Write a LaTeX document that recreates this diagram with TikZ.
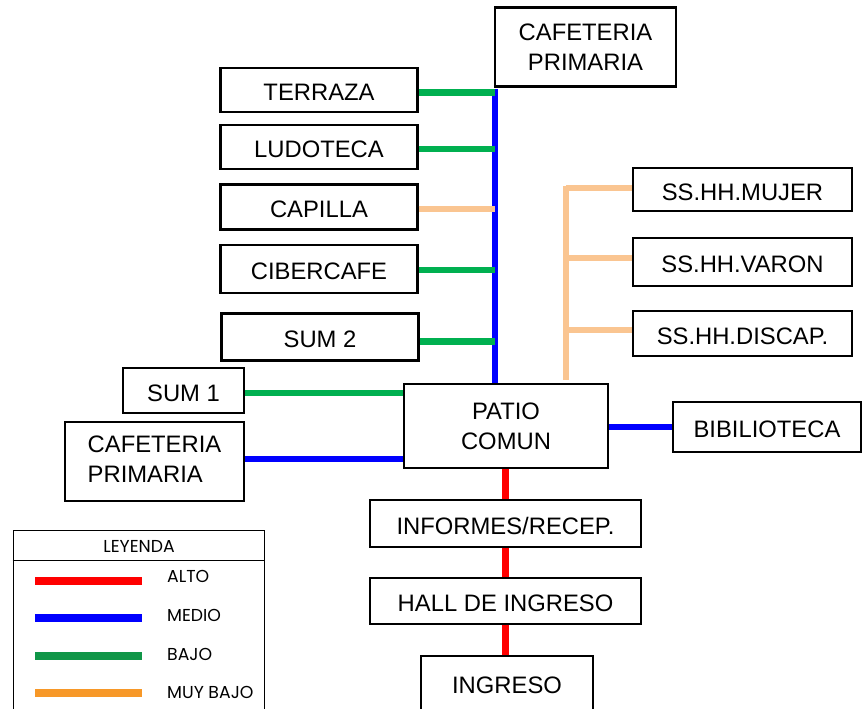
\documentclass[tikz,border=0pt]{standalone}
\usepackage{fontspec}
\setmainfont{Liberation Sans}
\newfontfamily\legfont{Poppins}
\definecolor{cAlto}{RGB}{255,0,0}
\definecolor{cMedio}{RGB}{0,0,255}
\definecolor{cBajo}{RGB}{0,176,80}
\definecolor{cMuyBajo}{RGB}{250,197,145}
\definecolor{lBajo}{RGB}{16,150,72}
\definecolor{lMuyBajo}{RGB}{247,152,40}
\tikzset{
  box/.style={draw=black, line width=2.2pt, fill=white, inner sep=0pt,
    font=\fontsize{23.8pt}{30pt}\selectfont, align=center},
  onebox/.style={box, text height=21.5pt, text depth=0pt},
  alto/.style={draw=cAlto, line width=6.5pt},
  medio/.style={draw=cMedio, line width=6.5pt},
  bajo/.style={draw=cBajo, line width=6.5pt},
  muybajo/.style={draw=cMuyBajo, line width=6.5pt},
  legline/.style={line width=8pt},
  legtext/.style={font=\legfont\fontsize{17.3pt}{20pt}\selectfont, anchor=base west, inner sep=0pt},
}
\begin{document}
\begin{tikzpicture}[x=1pt,y=-1pt]
\useasboundingbox[fill=white] (0,0) rectangle (867,709);

% boxes
\node[box, minimum width=181pt, minimum height=79pt] (cafT) at (585.5,47) {CAFETERIA\\PRIMARIA};
\node[onebox, minimum width=197pt, minimum height=44pt] (terraza) at (319,90) {TERRAZA};
\node[onebox, minimum width=197pt, minimum height=44pt] (ludoteca) at (319,147) {LUDOTECA};
\node[onebox, minimum width=197pt, minimum height=45pt] (capilla) at (319,207) {CAPILLA};
\node[onebox, minimum width=197pt, minimum height=48pt] (ciber) at (319,269) {CIBERCAFE};
\node[onebox, minimum width=197pt, minimum height=47pt] (sum2) at (320,337) {SUM 2};
\node[onebox, minimum width=121pt, minimum height=45pt] (sum1) at (183.5,390.5) {SUM 1};
\node[box, minimum width=179pt, minimum height=79pt] (cafL) at (154.5,461.5)
  {\begin{tabular}{@{}l@{}}CAFETERIA\\PRIMARIA\end{tabular}};
\node[box, minimum width=204pt, minimum height=84pt] (patio) at (506,426) {PATIO\\COMUN};
\node[onebox, minimum width=188pt, minimum height=50pt] (biblio) at (767,427) {BIBILIOTECA};
\node[onebox, minimum width=271pt, minimum height=47pt] (informes) at (505.5,523.5) {INFORMES/RECEP.};
\node[onebox, minimum width=271pt, minimum height=46pt] (hall) at (505.5,601) {HALL DE INGRESO};
\node[onebox, minimum width=172pt, minimum height=54pt] (ingreso) at (507,683) {INGRESO};
\node[onebox, minimum width=219pt, minimum height=43pt] (mujer) at (742.5,189.5) {SS.HH.MUJER};
\node[onebox, minimum width=219pt, minimum height=48pt] (varon) at (742.5,262) {SS.HH.VARON};
\node[onebox, minimum width=219pt, minimum height=45pt] (discap) at (742.5,333.5) {SS.HH.DISCAP.};

% trunk coordinates
\coordinate (trunk) at (495,89);
\coordinate (peach) at (566,186);

% medio trunk
\draw[medio] (trunk) -- (trunk |- patio.north);
% bajo / muy bajo branches to trunk
\draw[bajo] ([yshift=-2.5pt]terraza.east) -- ([yshift=-2.5pt]terraza.east -| trunk);
\draw[bajo] ([yshift=-2pt]ludoteca.east) -- ([yshift=-2pt]ludoteca.east -| trunk);
\draw[muybajo] ([yshift=-2pt]capilla.east) -- ([yshift=-2pt]capilla.east -| trunk);
\draw[bajo] ([yshift=-1pt]ciber.east) -- ([yshift=-1pt]ciber.east -| trunk);
\draw[bajo] ([yshift=-4.5pt]sum2.east) -- ([yshift=-4.5pt]sum2.east -| trunk);
% left side
\draw[bajo] ([yshift=-2.5pt]sum1.east) -- ([yshift=-2.5pt]sum1.east -| patio.west);
\draw[medio] ([yshift=2.5pt]cafL.east) -- ([yshift=2.5pt]cafL.east -| patio.west);
% right side
\draw[medio] (patio.east |- biblio.west) -- (biblio.west);
% muy bajo toilets
\draw[muybajo] (peach) -- ([yshift=3pt]peach |- patio.north);
\draw[muybajo] ([yshift=1.5pt]mujer.west) -- ([yshift=1.5pt]mujer.west -| peach);
\draw[muybajo] ([yshift=4pt]varon.west) -- ([yshift=4pt]varon.west -| peach);
\draw[muybajo] ([yshift=3.5pt]discap.west) -- ([yshift=3.5pt]discap.west -| peach);
% alto chain
\draw[alto] (patio.south -| informes.north) -- (informes.north);
\draw[alto] (informes.south) -- (hall.north);
\draw[alto] (hall.south) -- (hall.south |- ingreso.north);

% legend
\node[draw=black, line width=1.4pt, minimum width=251pt, minimum height=190pt, anchor=north west, inner sep=0pt] (leg) at (12.5,530) {};
\coordinate (legsep) at (12.5,560);
\draw[line width=0.9pt] (legsep) -- (legsep -| leg.east);
\node[font=\legfont\fontsize{17.3pt}{20pt}\selectfont, inner sep=0pt, anchor=base] (legtitle) at (139,552) {LEYENDA};
\coordinate (l1) at (35,581);
\coordinate (l2) at (35,618);
\coordinate (l3) at (35,655.5);
\coordinate (l4) at (35,692.5);
\draw[legline, draw=cAlto] (l1) -- ++(107,0);
\draw[legline, draw=cMedio] (l2) -- ++(107,0);
\draw[legline, draw=lBajo] (l3) -- ++(107,0);
\draw[legline, draw=lMuyBajo] (l4) -- ++(107,0);
\node[legtext] (t1) at (167,582) {ALTO};
\node[legtext] (t2) at (167,621.5) {MEDIO};
\node[legtext] (t3) at (167,660) {BAJO};
\node[legtext] (t4) at (167,698) {MUY BAJO};
\end{tikzpicture}
\end{document}
